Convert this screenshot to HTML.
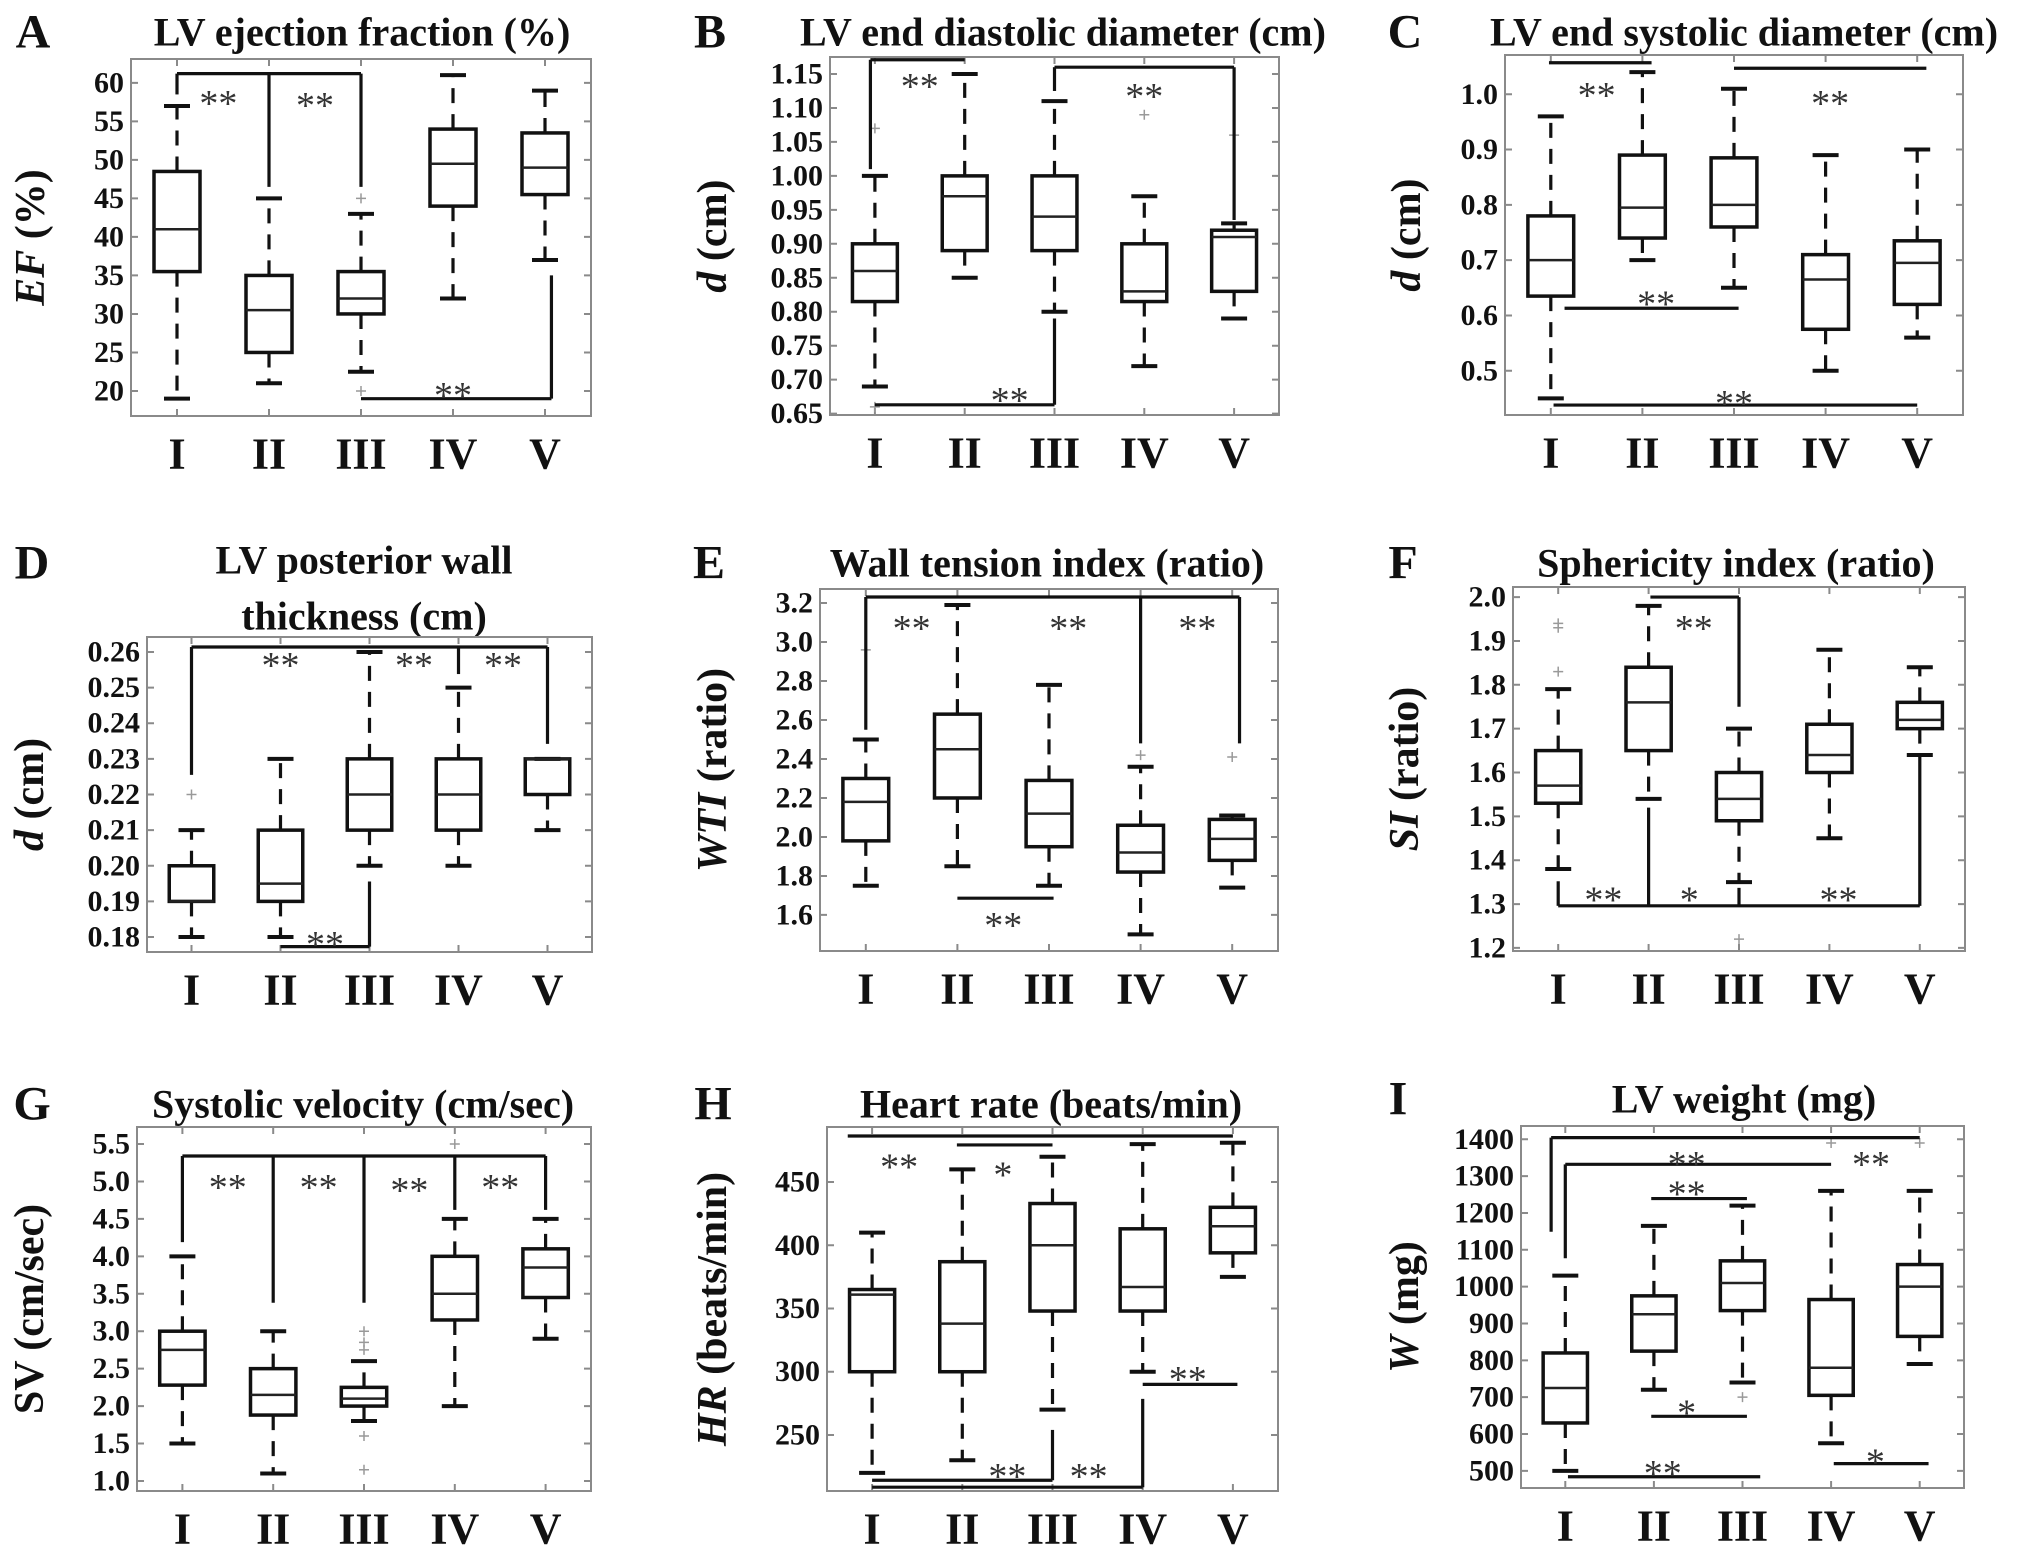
<!DOCTYPE html>
<html><head><meta charset="utf-8"><style>
html,body{margin:0;padding:0;background:#fff;}
svg{display:block;font-family:"Liberation Serif",serif;}
</style></head><body>
<svg id="fig" width="2031" height="1558" viewBox="0 0 2031 1558" xmlns="http://www.w3.org/2000/svg"></svg>
<script>
const categories = ["I","II","III","IV","V"];
// Panel A
const aLow=[19,21,22.5,32,37], aQ1=[35.5,25,30,44,45.5], aMed=[41,30.5,32,49.5,49], aQ3=[48.5,35,35.5,54,53.5], aHigh=[57,45,43,61,59];
const aOut=[[3,45],[3,20]];
const aTicks=[20,25,30,35,40,45,50,55,60];
const aSegs=[[1,61.2,3,61.2],[1,61.2,1,58.5],[2,61.2,2,46.5],[3,61.2,3,46.5],[3,19,5.07,19],[5.07,19,5.07,35]];
const aStars=[[1.45,58.7,"**"],[2.5,58.4,"**"],[4.0,20.8,"**"]];
// Panel B
const bLow=[0.69,0.85,0.80,0.72,0.79], bQ1=[0.815,0.89,0.89,0.815,0.83], bMed=[0.86,0.97,0.94,0.83,0.91], bQ3=[0.90,1.00,1.00,0.90,0.92], bHigh=[1.00,1.15,1.11,0.97,0.93];
const bOut=[[1,1.07],[1,0.66],[4,1.09],[5,1.06]];
const bTicks=[0.65,0.70,0.75,0.80,0.85,0.90,0.95,1.00,1.05,1.10,1.15];
const bSegs=[[0.95,1.171,2.0,1.171],[0.95,1.171,0.95,1.01],[3,1.16,5,1.16],[3,1.16,3,1.125],[5,1.16,5,0.935],[1.0,0.663,3.0,0.663],[3,0.663,3,0.79]];
const bStars=[[1.5,1.147,"**"],[4.0,1.132,"**"],[2.5,0.685,"**"]];
// Panel C
const cLow=[0.45,0.70,0.65,0.50,0.56], cQ1=[0.635,0.74,0.76,0.575,0.62], cMed=[0.70,0.795,0.80,0.665,0.695], cQ3=[0.78,0.89,0.885,0.71,0.735], cHigh=[0.96,1.04,1.01,0.89,0.90];
const cOut=[];
const cTicks=[0.5,0.6,0.7,0.8,0.9,1.0];
const cSegs=[[0.98,1.057,2.1,1.057],[3.0,1.047,5.1,1.047],[1.15,0.613,3.05,0.613],[1.03,0.438,5.0,0.438]];
const cStars=[[1.5,1.017,"**"],[4.05,1.002,"**"],[2.15,0.640,"**"],[3.0,0.46,"**"]];
// Panel D
const dLow=[0.18,0.18,0.20,0.20,0.21], dQ1=[0.19,0.19,0.21,0.21,0.22], dMed=[0.19,0.195,0.22,0.22,0.23], dQ3=[0.20,0.21,0.23,0.23,0.23], dHigh=[0.21,0.23,0.26,0.25,0.23];
const dOut=[[1,0.22]];
const dTicks=[0.18,0.19,0.20,0.21,0.22,0.23,0.24,0.25,0.26];
const dSegs=[[1,0.2614,5,0.2614],[1,0.2614,1,0.2255],[4,0.2614,4,0.2538],[5,0.2614,5,0.2342],[2,0.1773,3,0.1773],[3,0.1773,3,0.1956]];
const dStars=[[2.0,0.2592,"**"],[3.5,0.2592,"**"],[4.5,0.2592,"**"],[2.5,0.1809,"**"]];
// Panel E
const eLow=[1.75,1.85,1.75,1.50,1.74], eQ1=[1.98,2.20,1.95,1.82,1.88], eMed=[2.18,2.45,2.12,1.92,1.99], eQ3=[2.30,2.63,2.29,2.06,2.09], eHigh=[2.50,3.19,2.78,2.36,2.11];
const eOut=[[1,2.96],[4,2.42],[5,2.41]];
const eTicks=[1.6,1.8,2.0,2.2,2.4,2.6,2.8,3.0,3.2];
const eSegs=[[1,3.231,5.08,3.231],[1,3.231,1,2.55],[4,3.231,4,2.48],[5.08,3.231,5.08,2.48],[2,1.686,3.05,1.686]];
const eStars=[[1.5,3.124,"**"],[3.21,3.124,"**"],[4.62,3.124,"**"],[2.5,1.60,"**"]];
// Panel F
const fLow=[1.38,1.54,1.35,1.45,1.64], fQ1=[1.53,1.65,1.49,1.60,1.70], fMed=[1.57,1.76,1.54,1.64,1.72], fQ3=[1.65,1.84,1.60,1.71,1.76], fHigh=[1.79,1.98,1.70,1.88,1.84];
const fOut=[[1,1.94],[1,1.93],[1,1.83],[3,1.22]];
const fTicks=[1.2,1.3,1.4,1.5,1.6,1.7,1.8,1.9,2.0];
const fSegs=[[2.02,2.0,3,2.0],[3,2.0,3,1.75],[1,1.296,5,1.296],[1,1.296,1,1.352],[2,1.296,2,1.52],[3,1.296,3,1.337],[5,1.296,5,1.636]];
const fStars=[[2.5,1.952,"**"],[1.5,1.333,"**"],[2.45,1.333,"*"],[4.1,1.333,"**"]];
// Panel G
const gLow=[1.5,1.1,1.8,2.0,2.9], gQ1=[2.28,1.88,2.0,3.15,3.45], gMed=[2.75,2.15,2.1,3.5,3.85], gQ3=[3.0,2.5,2.25,4.0,4.1], gHigh=[4.0,3.0,2.6,4.5,4.5];
const gOut=[[3,3.0],[3,2.85],[3,2.75],[3,1.6],[3,1.15],[4,5.5]];
const gTicks=[1.0,1.5,2.0,2.5,3.0,3.5,4.0,4.5,5.0,5.5];
const gSegs=[[1,5.34,5,5.34],[1,5.34,1,4.19],[2,5.34,2,3.38],[3,5.34,3,3.38],[4,5.34,4,4.62],[5,5.34,5,4.62]];
const gStars=[[1.5,5.06,"**"],[2.5,5.06,"**"],[3.5,5.02,"**"],[4.5,5.06,"**"]];
// Panel H
const hLow=[220,230,270,300,375], hQ1=[300,300,348,348,394], hMed=[361,338,400,367,415], hQ3=[365,387,433,413,430], hHigh=[410,460,470,480,481];
const hOut=[];
const hTicks=[250,300,350,400,450];
const hSegs=[[0.73,486.4,5.0,486.4],[1.94,479.3,3.0,479.3],[1,214.2,3,214.2],[3,214.2,3,254],[1,208.7,4,208.7],[4,208.7,4,278.5],[4,290,5.05,290]];
const hStars=[[1.3,470,"**"],[2.45,464,"*"],[2.5,225.5,"**"],[3.4,225.5,"**"],[4.5,302,"**"]];
// Panel I
const iLow=[500,720,740,575,790], iQ1=[630,825,935,705,865], iMed=[725,925,1010,780,1000], iQ3=[820,975,1070,965,1060], iHigh=[1030,1165,1220,1260,1260];
const iOut=[[3,700],[4,1390],[5,1390]];
const iTicks=[500,600,700,800,900,1000,1100,1200,1300,1400];
const iSegs=[[0.84,1404.5,5,1404.5],[0.84,1404.5,0.84,1149],[1,1332,4,1332],[1,1332,1,1077],[1.97,1239,3.05,1239],[1.97,648,3.05,648],[1.03,484,3.2,484],[4.03,519.6,5.1,519.6]];
const iStars=[[2.37,1360,"**"],[4.45,1360,"**"],[2.37,1280,"**"],[2.37,685,"*"],[2.1,521,"**"],[4.5,552,"*"]];

const panels=[
 {id:"a",letter:"A",lx:33,ly:32,title:["LV ejection fraction (%)"],tx:362,ty:[32],L:131,T:59,R:591,B:416,y0:16.75,y1:63.1,dec:0,ylab:[["EF",true],[" (%)",false]],ylx:31,
  low:aLow,q1:aQ1,med:aMed,q3:aQ3,high:aHigh,out:aOut,ticks:aTicks,segs:aSegs,stars:aStars},
 {id:"b",letter:"B",lx:710,ly:32,title:["LV end diastolic diameter (cm)"],tx:1063,ty:[32],L:830,T:57,R:1279,B:415,y0:0.648,y1:1.175,dec:2,ylab:[["d",true],[" (cm)",false]],ylx:713,
  low:bLow,q1:bQ1,med:bMed,q3:bQ3,high:bHigh,out:bOut,ticks:bTicks,segs:bSegs,stars:bStars},
 {id:"c",letter:"C",lx:1405,ly:32,title:["LV end systolic diameter (cm)"],tx:1744,ty:[32],L:1505,T:55,R:1963,B:415,y0:0.42,y1:1.071,dec:1,ylab:[["d",true],[" (cm)",false]],ylx:1407,
  low:cLow,q1:cQ1,med:cMed,q3:cQ3,high:cHigh,out:cOut,ticks:cTicks,segs:cSegs,stars:cStars},
 {id:"d",letter:"D",lx:32,ly:563,title:["LV posterior wall","thickness (cm)"],tx:364,ty:[560,616],L:147,T:637,R:592,B:952,y0:0.1758,y1:0.2642,dec:2,ylab:[["d",true],[" (cm)",false]],ylx:30,
  low:dLow,q1:dQ1,med:dMed,q3:dQ3,high:dHigh,out:dOut,ticks:dTicks,segs:dSegs,stars:dStars},
 {id:"e",letter:"E",lx:709,ly:563,title:["Wall tension index (ratio)"],tx:1047,ty:[563],L:820,T:589,R:1278,B:951,y0:1.415,y1:3.272,dec:1,ylab:[["WTI",true],[" (ratio)",false]],ylx:713,
  low:eLow,q1:eQ1,med:eMed,q3:eQ3,high:eHigh,out:eOut,ticks:eTicks,segs:eSegs,stars:eStars},
 {id:"f",letter:"F",lx:1403,ly:563,title:["Sphericity index (ratio)"],tx:1736,ty:[563],L:1513,T:587,R:1965,B:951,y0:1.193,y1:2.023,dec:1,ylab:[["SI",true],[" (ratio)",false]],ylx:1405,
  low:fLow,q1:fQ1,med:fMed,q3:fQ3,high:fHigh,out:fOut,ticks:fTicks,segs:fSegs,stars:fStars},
 {id:"g",letter:"G",lx:32,ly:1104,title:["Systolic velocity (cm/sec)"],tx:363,ty:[1104],L:137,T:1127,R:591,B:1491,y0:0.866,y1:5.727,dec:1,ylab:[["SV (cm/sec)",false]],ylx:30,
  low:gLow,q1:gQ1,med:gMed,q3:gQ3,high:gHigh,out:gOut,ticks:gTicks,segs:gSegs,stars:gStars},
 {id:"h",letter:"H",lx:713,ly:1104,title:["Heart rate (beats/min)"],tx:1051,ty:[1104],L:827,T:1127,R:1278,B:1491,y0:205.7,y1:493.5,dec:0,ylab:[["HR",true],[" (beats/min)",false]],ylx:713,
  low:hLow,q1:hQ1,med:hMed,q3:hQ3,high:hHigh,out:hOut,ticks:hTicks,segs:hSegs,stars:hStars},
 {id:"i",letter:"I",lx:1398,ly:1099,title:["LV  weight (mg)"],tx:1744,ty:[1099],L:1521,T:1126,R:1964,B:1488,y0:453.5,y1:1436,dec:0,ylab:[["W",true],[" (mg)",false]],ylx:1405,
  low:iLow,q1:iQ1,med:iMed,q3:iQ3,high:iHigh,out:iOut,ticks:iTicks,segs:iSegs,stars:iStars}
];

const NS="http://www.w3.org/2000/svg";
const svg=document.getElementById("fig");
function mk(tag,attrs,parent){const e=document.createElementNS(NS,tag);for(const k in attrs)e.setAttribute(k,attrs[k]);parent.appendChild(e);return e;}

panels.forEach(p=>{
  const g=mk("g",{},svg);
  
  
  const sx=c=>p.L+(c-0.5)*(p.R-p.L)/5;
  const sy=v=>p.B-(v-p.y0)/(p.y1-p.y0)*(p.B-p.T);
  // letter
  const lt=mk("text",{x:p.lx,y:p.ly,"font-size":48,"font-weight":"bold","text-anchor":"middle","dominant-baseline":"central",fill:"#111"},g);
  lt.textContent=p.letter;
  
  
  // title
  p.title.forEach((t,k)=>{
    const tt=mk("text",{x:p.tx,y:p.ty[k],"font-size":40,"font-weight":"bold","text-anchor":"middle","dominant-baseline":"central",fill:"#111"},g);
    tt.textContent=t;
    
    
  });
  // frame
  const fr=mk("rect",{x:p.L,y:p.T,width:p.R-p.L,height:p.B-p.T,fill:"none",stroke:"#8a8a8a","stroke-width":2},g);
  
  
  // y ticks
  p.ticks.forEach(v=>{
    const y=sy(v);
    const tk=mk("path",{d:`M${p.L},${y}h7M${p.R},${y}h-7`,stroke:"#8a8a8a","stroke-width":2},g);
    
    
    const tl=mk("text",{x:p.L-7,y:y,"font-size":30,"font-weight":"bold","text-anchor":"end","dominant-baseline":"central",fill:"#111"},g);
    tl.textContent=v.toFixed(p.dec);
    
    
  });
  // x ticks and labels
  categories.forEach((c,i)=>{
    const x=sx(i+1);
    const tk=mk("path",{d:`M${x},${p.B}v-7M${x},${p.T}v7`,stroke:"#8a8a8a","stroke-width":2},g);
    
    
    const tl=mk("text",{x:x,y:p.B+38,"font-size":44,"font-weight":"bold","text-anchor":"middle","dominant-baseline":"central",fill:"#111"},g);
    tl.textContent=c;
    
    
  });
  // y label
  const yc=(p.T+p.B)/2;
  const yl=mk("text",{x:p.ylx,y:yc,"font-size":42,"font-weight":"bold","text-anchor":"middle","dominant-baseline":"central",fill:"#111",transform:`rotate(-90 ${p.ylx} ${yc})`},g);
  p.ylab.forEach(([s,it])=>{const ts=mk("tspan",it?{"font-style":"italic"}:{},yl);ts.textContent=s;});
  
  
  // boxes
  const bw=(p.R-p.L)/5*0.5, cw=26;
  categories.forEach((c,i)=>{
    const x=sx(i+1);
    const bg=mk("g",{},g);
    
    
    const yq1=sy(p.q1[i]), yq3=sy(p.q3[i]), ylo=sy(p.low[i]), yhi=sy(p.high[i]), ym=sy(p.med[i]);
    mk("path",{d:`M${x},${yq3}V${yhi}M${x},${yq1}V${ylo}`,stroke:"#111","stroke-width":3.2,"stroke-dasharray":"15 11",fill:"none"},bg);
    mk("path",{d:`M${x-cw/2},${yhi}h${cw}M${x-cw/2},${ylo}h${cw}`,stroke:"#111","stroke-width":4},bg);
    mk("rect",{x:x-bw/2,y:yq3,width:bw,height:Math.max(1,yq1-yq3),fill:"none",stroke:"#111","stroke-width":3.5},bg);
    mk("path",{d:`M${x-bw/2},${ym}h${bw}`,stroke:"#222","stroke-width":2.5},bg);
  });
  // outliers
  p.out.forEach(([c,v])=>{
    const x=sx(c),y=sy(v);
    const o=mk("path",{d:`M${x-5},${y}h10M${x},${y-5}v10`,stroke:"#999","stroke-width":1.5},g);
    
    
  });
  // significance brackets
  p.segs.forEach(([x1,y1,x2,y2])=>{
    const s=mk("line",{x1:sx(x1),y1:sy(y1),x2:sx(x2),y2:sy(y2),stroke:"#111","stroke-width":3.2},g);
    
    
  });
  p.stars.forEach(([x,y,t])=>{
    const s=mk("text",{x:sx(x),y:sy(y)+11,"font-size":38,"text-anchor":"middle","dominant-baseline":"central",fill:"#333"},g);
    s.textContent=t;
    
    
  });
});
</script>
</body></html>
